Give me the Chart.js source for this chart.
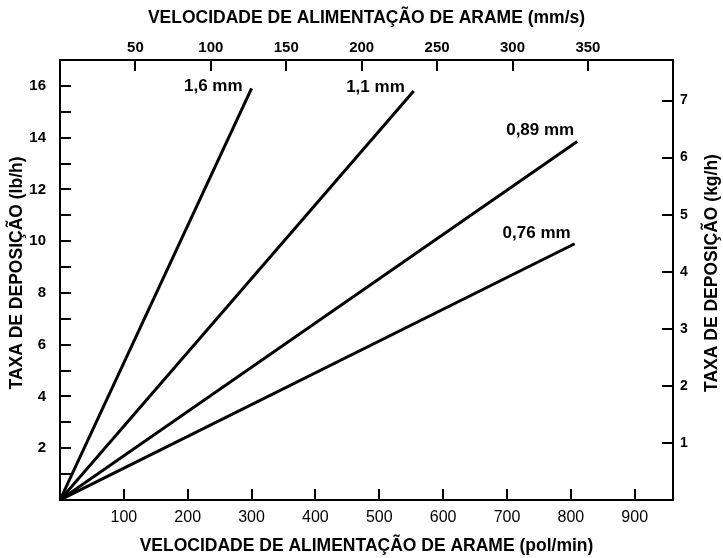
<!DOCTYPE html>
<html>
<head>
<meta charset="utf-8">
<script src="https://cdn.jsdelivr.net/npm/chart.js@4"></script>
<style>
  body { margin: 0; background: #fff; }
</style>
</head>
<body>
<canvas id="chart" width="723" height="558"></canvas>
<script>
// dados
const wireSizes = ['1,6 mm', '1,1 mm', '0,89 mm', '0,76 mm'];
const feedStart = [0, 0, 0, 0];          // pol/min
const feedEnd = [300, 554, 810, 806];    // pol/min
const rateStart = [0, 0, 0, 0];          // lb/h
const rateEnd = [15.9, 15.8, 13.85, 9.9]; // lb/h

const bottomMax = 960;                    // pol/min
const topMax = bottomMax * 25.4 / 60;     // mm/s
const leftMax = 17;                       // lb/h
const rightMax = leftMax * 0.45359;       // kg/h

const leftTitle = 'TAXA DE DEPOSIÇÃO (lb/h)';
const rightTitle = 'TAXA DE DEPOSIÇÃO (kg/h)';

const titleFont = { size: 17.5, weight: 'bold' };
const fontFamily = '"Liberation Sans", Arial, sans-serif';

Chart.defaults.font.family = fontFamily;
Chart.defaults.color = '#000';

// marcas de escala para dentro do gráfico
const tickLimits = { x: 900, x2: 350, y: 16, y2: 7 };
const inwardTicks = {
  id: 'inwardTicks',
  afterDraw(chart) {
    const ctx = chart.ctx;
    const area = chart.chartArea;
    const len = 11;
    ctx.save();
    ctx.strokeStyle = '#000';
    ctx.lineWidth = 2;
    ctx.beginPath();
    Object.keys(tickLimits).forEach(id => {
      const s = chart.scales[id];
      s.ticks.forEach(t => {
        if (t.value === 0 || t.value > tickLimits[id]) return;
        const p = Math.round(s.getPixelForValue(t.value));
        if (id === 'x') { ctx.moveTo(p, area.bottom); ctx.lineTo(p, area.bottom - len); }
        if (id === 'x2') { ctx.moveTo(p, area.top); ctx.lineTo(p, area.top + len); }
        if (id === 'y') { ctx.moveTo(area.left, p); ctx.lineTo(area.left + len, p); }
        if (id === 'y2') { ctx.moveTo(area.right, p); ctx.lineTo(area.right - len, p); }
      });
    });
    ctx.stroke();
    ctx.restore();
  }
};

// títulos verticais, os dois lidos de baixo para cima
const sideTitles = {
  id: 'sideTitles',
  afterDraw(chart) {
    const ctx = chart.ctx;
    const area = chart.chartArea;
    const cy = (area.top + area.bottom) / 2 - 7;
    ctx.save();
    ctx.font = 'bold 17.5px ' + fontFamily;
    ctx.fillStyle = '#000';
    ctx.textAlign = 'center';
    ctx.textBaseline = 'middle';
    [[17, leftTitle], [chart.width - 11, rightTitle]].forEach(([x, text]) => {
      ctx.save();
      ctx.translate(x, cy);
      ctx.rotate(-Math.PI / 2);
      ctx.fillText(text, 0, 0);
      ctx.restore();
    });
    ctx.restore();
  }
};

// rótulos das curvas na ponta de cada reta
const lineLabels = {
  id: 'lineLabels',
  afterDatasetsDraw(chart) {
    const ctx = chart.ctx;
    ctx.save();
    ctx.font = 'bold 17px ' + fontFamily;
    ctx.fillStyle = '#000';
    ctx.textAlign = 'right';
    ctx.textBaseline = 'middle';
    chart.data.datasets.forEach((ds, i) => {
      const pts = chart.getDatasetMeta(i).data;
      const end = pts[pts.length - 1];
      ctx.fillText(ds.label, end.x - ds.labelDx, end.y - ds.labelDy);
    });
    ctx.restore();
  }
};

const labelDx = [9, 9, 3, 4];
const labelDy = [2, 4, 11, 10];

const datasets = wireSizes.map((name, i) => ({
  label: name,
  data: [{ x: feedStart[i], y: rateStart[i] }, { x: feedEnd[i], y: rateEnd[i] }],
  showLine: true,
  borderColor: '#000',
  borderWidth: 3,
  pointRadius: 0,
  labelDx: labelDx[i],
  labelDy: labelDy[i]
}));

new Chart(document.getElementById('chart'), {
  type: 'scatter',
  data: { datasets: datasets },
  plugins: [inwardTicks, sideTitles, lineLabels],
  options: {
    responsive: false,
    animation: false,
    layout: { padding: 0 },
    plugins: { legend: { display: false }, tooltip: { enabled: false } },
    scales: {
      x: {
        type: 'linear', position: 'bottom', min: 0, max: bottomMax,
        afterFit: s => { s.height = 58; },
        grid: { display: false, drawTicks: false },
        border: { display: true, color: '#000', width: 2 },
        ticks: {
          stepSize: 100, includeBounds: false, autoSkip: false, maxRotation: 0, padding: 8,
          font: { size: 16 },
          callback: v => v === 0 ? '' : v
        },
        title: { display: true, text: 'VELOCIDADE DE ALIMENTAÇÃO DE ARAME (pol/min)', font: titleFont, padding: { top: 0, bottom: 1 } }
      },
      x2: {
        type: 'linear', position: 'top', min: 0, max: topMax,
        afterFit: s => { s.height = 60; },
        grid: { display: false, drawTicks: false },
        border: { display: true, color: '#000', width: 2 },
        ticks: {
          stepSize: 50, includeBounds: false, autoSkip: false, maxRotation: 0, padding: 3,
          font: { size: 15, weight: 'bold' },
          callback: v => (v === 0 || v > 350) ? '' : v
        },
        title: { display: true, text: 'VELOCIDADE DE ALIMENTAÇÃO DE ARAME (mm/s)', font: titleFont, padding: { top: 8, bottom: 0 } }
      },
      y: {
        type: 'linear', position: 'left', min: 0, max: leftMax,
        afterFit: s => { s.width = 60; },
        grid: { display: false, drawTicks: false },
        border: { display: true, color: '#000', width: 2 },
        ticks: {
          stepSize: 1, includeBounds: false, autoSkip: false, padding: 14,
          font: { size: 15, weight: 'bold' },
          callback: v => (v === 0 || v % 2) ? '' : v
        }
      },
      y2: {
        type: 'linear', position: 'right', min: 0, max: rightMax,
        afterFit: s => { s.width = 50; },
        grid: { display: false, drawTicks: false },
        border: { display: true, color: '#000', width: 2 },
        ticks: {
          stepSize: 1, includeBounds: false, autoSkip: false, padding: 7,
          font: { size: 14, weight: 'bold' },
          callback: v => v === 0 ? '' : v
        }
      }
    }
  }
});
</script>
</body>
</html>
